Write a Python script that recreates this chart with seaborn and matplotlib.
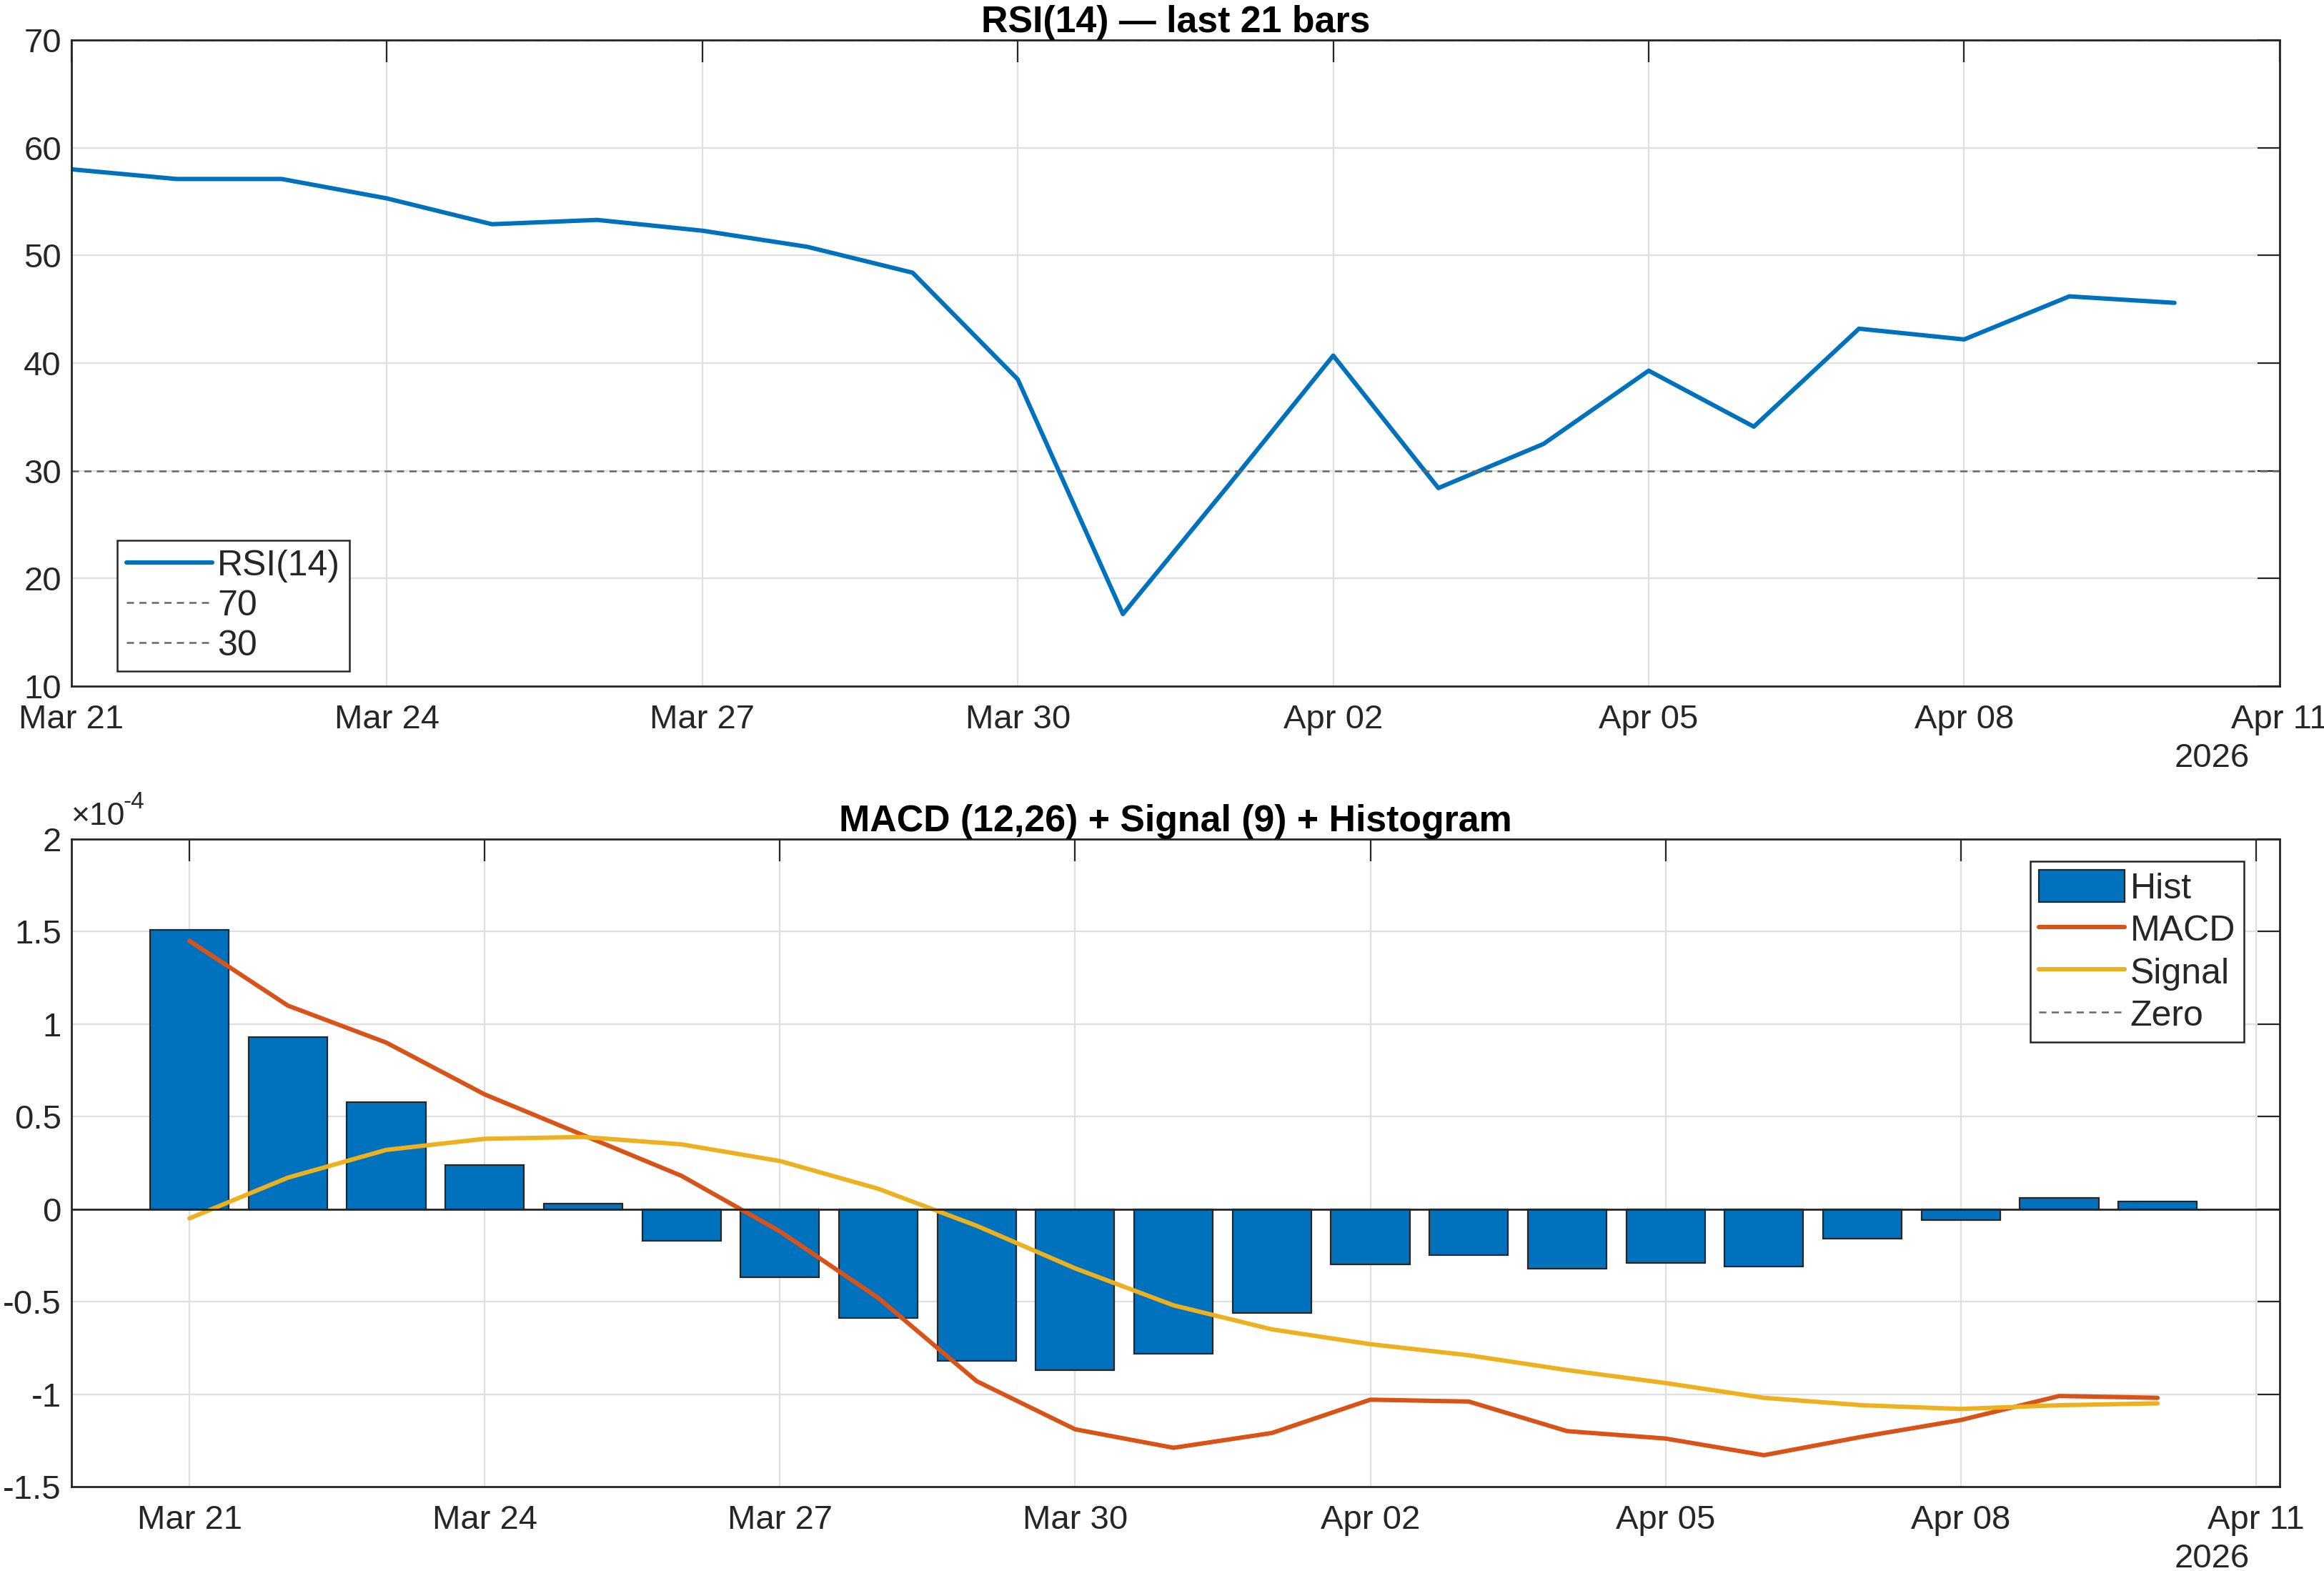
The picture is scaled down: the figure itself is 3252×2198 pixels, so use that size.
import numpy as np
import pandas as pd
import matplotlib
matplotlib.use("Agg")
import matplotlib.pyplot as plt
import matplotlib.dates as mdates
import matplotlib.transforms as mtransforms
from matplotlib.patches import Patch
from matplotlib.lines import Line2D
import seaborn as sns

# ----------------------------------------
# Data
# ----------------------------------------
dates = pd.date_range("2026-03-21", "2026-04-10", freq="D")
rsi = [58.0, 57.1, 57.1, 55.3, 52.9, 53.3, 52.3, 50.8, 48.4, 38.5, 16.7,
       28.6, 40.7, 28.4, 32.5, 39.3, 34.1, 43.2, 42.2, 46.2, 45.6]
# MACD panel values, in units of 1e-4
hist = [1.51, 0.93, 0.58, 0.24, 0.03, -0.17, -0.37, -0.59, -0.82, -0.87, -0.78,
        -0.56, -0.30, -0.25, -0.32, -0.29, -0.31, -0.16, -0.06, 0.06, 0.04]
macd = [1.45, 1.10, 0.90, 0.62, 0.40, 0.18, -0.12, -0.48, -0.93, -1.19, -1.29,
        -1.21, -1.03, -1.04, -1.20, -1.24, -1.33, -1.23, -1.14, -1.01, -1.02]
signal = [-0.05, 0.17, 0.32, 0.38, 0.39, 0.35, 0.26, 0.11, -0.09, -0.32, -0.52,
          -0.65, -0.73, -0.79, -0.87, -0.94, -1.02, -1.06, -1.08, -1.06, -1.05]
rsi_levels = [70, 30]
tick_dates = pd.date_range("2026-03-21", "2026-04-11", freq="3D")

# ----------------------------------------
# Style (MATLAB-like look)
# ----------------------------------------
sns.set_style("white")
plt.rcParams["font.family"] = ["Liberation Sans", "DejaVu Sans"]
plt.rcParams["axes.unicode_minus"] = False

BLUE = "#0072BD"
ORANGE = "#D95319"
YELLOW = "#EDB120"
DARK = "#262626"
GRID = "#DFDFDF"
DASH = "#666666"
FS = 17
TFS = 18.7
LFS = 18
LW = 2.2

x = mdates.date2num(dates)
xt = mdates.date2num(tick_dates)
df = pd.DataFrame({"x": x, "rsi": rsi, "hist": hist, "macd": macd, "signal": signal})

fig = plt.figure(figsize=(16.26, 10.99), dpi=200)
ax1 = fig.add_axes([0.0307, 0.5632, 0.9502, 0.4113])
ax2 = fig.add_axes([0.0307, 0.0537, 0.9502, 0.4122])


def style_axes(ax):
    ax.set_xticks(xt)
    ax.set_xticklabels([d.strftime("%b %d") for d in tick_dates])
    ax.grid(True, color=GRID, linewidth=0.8)
    ax.set_axisbelow(True)
    ax.tick_params(direction="in", length=11, width=0.8, colors=DARK,
                   labelsize=FS, top=True, right=True)
    ax.tick_params(axis="x", pad=9)
    ax.tick_params(axis="y", pad=5)
    for s in ax.spines.values():
        s.set_color(DARK)
        s.set_linewidth(1.0)
    ax.set_xlabel("")
    ax.set_ylabel("")
    ax.text(1.0 - 0.0135, -0.112, "2026", transform=ax.transAxes, ha="right",
            va="center", fontsize=FS, color=DARK)


# ----------------------------------------
# RSI panel
# ----------------------------------------
sns.lineplot(data=df, x="x", y="rsi", ax=ax1, color=BLUE, linewidth=LW, legend=False)
for lvl in rsi_levels:
    ax1.axhline(lvl, color=DASH, linestyle=(0, (4, 3)), linewidth=0.9)
ax1.set_xlim(xt[0], xt[-1])
ax1.set_ylim(10, 70)
ax1.set_yticks(np.arange(10, 71, 10))
style_axes(ax1)
ax1.set_title("RSI(14) \u2014 last 21 bars", fontsize=TFS, fontweight="bold",
              color="black", pad=4)
h1 = [Line2D([], [], color=BLUE, linewidth=LW),
      Line2D([], [], color=DASH, linestyle=(0, (4, 3)), linewidth=0.9),
      Line2D([], [], color=DASH, linestyle=(0, (4, 3)), linewidth=0.9)]
leg1 = ax1.legend(h1, ["RSI(14)", "70", "30"], loc="lower left",
                  bbox_to_anchor=(0.0208, 0.023), borderaxespad=0, fontsize=LFS,
                  fancybox=False, framealpha=1, edgecolor=DARK, handlelength=2.4,
                  handletextpad=0.15, labelspacing=0.2, borderpad=0.25)
leg1.get_frame().set_linewidth(0.9)

# ----------------------------------------
# MACD panel
# ----------------------------------------
sns.barplot(data=df, x="x", y="hist", ax=ax2, native_scale=True, width=0.8,
            color=BLUE, saturation=1, edgecolor=DARK, linewidth=0.8, errorbar=None)
ax2.axhline(0, color=DARK, linewidth=1.0, zorder=3)
sns.lineplot(data=df, x="x", y="macd", ax=ax2, color=ORANGE, linewidth=LW, legend=False)
sns.lineplot(data=df, x="x", y="signal", ax=ax2, color=YELLOW, linewidth=LW, legend=False)
ax2.set_xlim(x[0] - 1.2, x[-1] + 1.24)
ax2.set_ylim(-1.5, 2)
yt = np.arange(-1.5, 2.01, 0.5)
ax2.set_yticks(yt)
ax2.set_yticklabels([f"{v:g}" for v in yt])
style_axes(ax2)
ax2.set_title("MACD (12,26) + Signal (9) + Histogram", fontsize=TFS, fontweight="bold",
              color="black", pad=4)

# x10^-4 exponent label (hyphen, not minus, as in the reference)
ax2.text(0.0, 1.012, "\u00d710", transform=ax2.transAxes, ha="left",
         va="bottom", fontsize=FS - 1, color=DARK)
off = mtransforms.offset_copy(ax2.transAxes, fig=fig, x=26, y=9, units="points")
ax2.text(0.0, 1.012, "-4", transform=off, ha="left", va="bottom",
         fontsize=FS - 5, color=DARK)

h2 = [Patch(facecolor=BLUE, edgecolor=DARK, linewidth=0.8),
      Line2D([], [], color=ORANGE, linewidth=LW),
      Line2D([], [], color=YELLOW, linewidth=LW),
      Line2D([], [], color=DASH, linestyle=(0, (4, 3)), linewidth=0.9)]
leg2 = ax2.legend(h2, ["Hist", "MACD", "Signal", "Zero"], loc="upper right",
                  bbox_to_anchor=(0.984, 0.966), borderaxespad=0, fontsize=LFS,
                  fancybox=False, framealpha=1, edgecolor=DARK, handlelength=2.4,
                  handleheight=1.0, handletextpad=0.15, labelspacing=0.2, borderpad=0.25)
leg2.get_frame().set_linewidth(0.9)

fig.savefig("out.png", dpi=200)
plt.close(fig)
